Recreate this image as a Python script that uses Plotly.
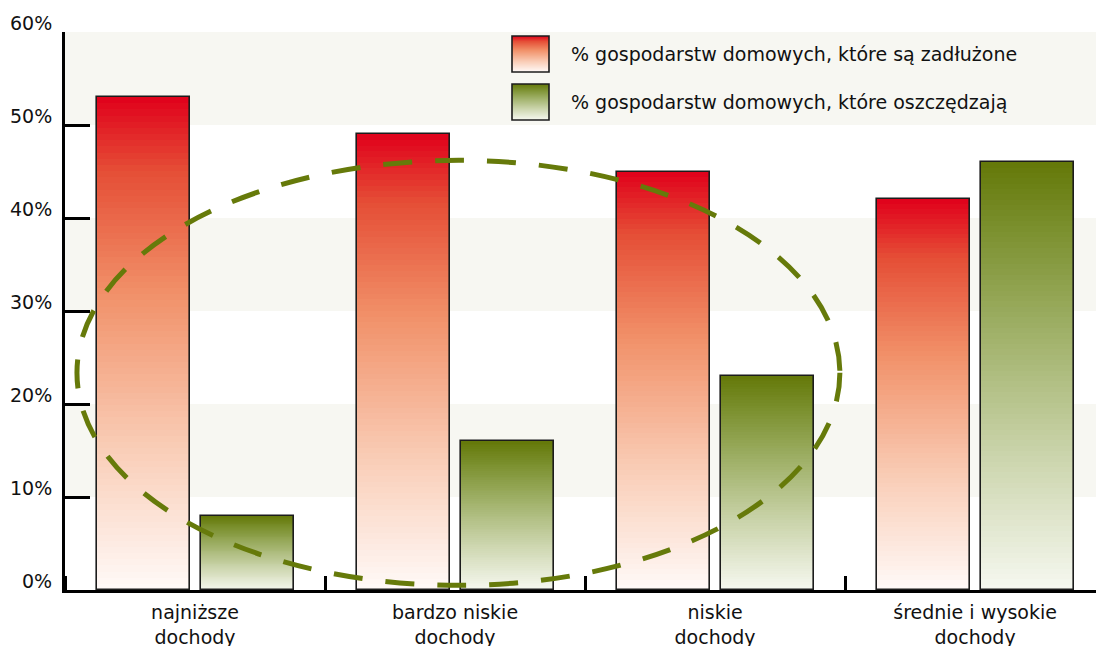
import plotly.graph_objects as go

# Income groups and shares of households (%)
categories = ["najniższe<br>dochody", "bardzo niskie<br>dochody", "niskie<br>dochody", "średnie i wysokie<br>dochody"]
indebted = [53, 49, 45, 42]
saving = [8, 16, 23, 46]
series_names = [
    "% gospodarstw domowych, które są zadłużone",
    "% gospodarstw domowych, które oszczędzają",
]
y_ticks = [0, 10, 20, 30, 40, 50, 60]
y_tick_labels = ["0%", "10%", "20%", "30%", "40%", "50%", "60%"]

FONT = "DejaVu Sans"
FS = 19
RED_STOPS = [(0.0, (255, 250, 248)), (0.3, (249, 203, 180)), (0.6, (241, 145, 105)),
             (0.85, (229, 78, 54)), (1.0, (224, 0, 27))]
GREEN_STOPS = [(0.0, (246, 248, 240)), (0.3, (205, 214, 175)), (0.6, (160, 177, 105)),
               (0.85, (122, 143, 45)), (1.0, (100, 120, 8))]
N_SEG = 80


def grad(stops, t):
    for (t0, c0), (t1, c1) in zip(stops, stops[1:]):
        if t <= t1:
            f = (t - t0) / (t1 - t0) if t1 > t0 else 0
            c = [round(a + (b - a) * f) for a, b in zip(c0, c1)]
            return "rgb(%d,%d,%d)" % tuple(c)
    return "rgb(%d,%d,%d)" % stops[-1][1]


BAR_W = 0.358
OFFSETS = [-0.377, 0.023]

fig = go.Figure()

for values, stops, off, name in zip([indebted, saving], [RED_STOPS, GREEN_STOPS], OFFSETS, series_names):
    xs, bases, hs, cols = [], [], [], []
    for i, v in enumerate(values):
        step = v / N_SEG
        for k in range(N_SEG):
            xs.append(i)
            bases.append(k * step)
            hs.append(step * 1.6 if k < N_SEG - 1 else step)
            cols.append(grad(stops, (k + 0.5) / N_SEG))
    fig.add_trace(go.Bar(x=xs, y=hs, base=bases, width=BAR_W, offset=off,
                         marker=dict(color=cols, line=dict(width=0)),
                         hoverinfo="skip", showlegend=False))
    # outline of the whole bar
    fig.add_trace(go.Bar(x=list(range(len(values))), y=values, width=BAR_W, offset=off,
                         marker=dict(color="rgba(0,0,0,0)", line=dict(color="#1c1c1c", width=1.6)),
                         name=name, showlegend=False))

shapes = []
# light horizontal bands
for lo in y_ticks[1::2]:
    shapes.append(dict(type="rect", xref="paper", yref="y", x0=0, x1=1, y0=lo, y1=lo + 10,
                       fillcolor="#f7f7f2", line=dict(width=0), layer="below"))

# dashed ellipse around the three lower-income groups
shapes.append(dict(type="circle", xref="x", yref="y", x0=-0.454, x1=2.48, y0=0.5, y1=46.2,
                   line=dict(color="#667a0a", width=5, dash="29px,23px"), layer="above"))

# legend swatches (gradient squares)
W, H = 1031, 558
annotations = []
for row, stops in enumerate([RED_STOPS, GREEN_STOPS]):
    top = 36 + row * 48
    px0, px1 = 512, 549
    n = 36
    for k in range(n):
        y_hi = top + k
        t = 1 - (k + 0.5) / n
        shapes.append(dict(type="rect", xref="paper", yref="paper",
                           x0=(px0 - 65) / W, x1=(px1 - 65) / W,
                           y0=(590 - (y_hi + 1.3)) / H, y1=(590 - y_hi) / H,
                           fillcolor=grad(stops, t), line=dict(width=0)))
    shapes.append(dict(type="rect", xref="paper", yref="paper",
                       x0=(px0 - 65) / W, x1=(px1 - 65) / W,
                       y0=(590 - (top + 36)) / H, y1=(590 - top) / H,
                       line=dict(color="#1c1c1c", width=1.6)))
    annotations.append(dict(xref="paper", yref="paper", x=(569 - 65) / W, y=(590 - (top + 18)) / H,
                            text=series_names[row], showarrow=False, xanchor="left", yanchor="middle",
                            font=dict(family=FONT, size=FS, color="#111")))

# y tick labels, set slightly above their gridline
for v, lab in zip(y_ticks, y_tick_labels):
    annotations.append(dict(xref="paper", yref="y", x=0, y=v, text=lab, showarrow=False,
                            xanchor="right", yanchor="middle", xshift=-11, yshift=9,
                            font=dict(family=FONT, size=FS, color="#111")))

fig.update_layout(
    width=1096, height=646,
    margin=dict(l=65, r=0, t=32, b=56),
    paper_bgcolor="white", plot_bgcolor="white",
    barmode="overlay", bargap=0,
    shapes=shapes, annotations=annotations,
    font=dict(family=FONT, size=FS, color="#111"),
    xaxis=dict(range=[-0.5, 3.465], tickmode="array", tickvals=list(range(len(categories))),
               ticktext=categories, ticks="", showgrid=False, zeroline=False, automargin=False,
               showline=True, linecolor="black", linewidth=3, ticklabelstandoff=3,
               minor=dict(tick0=0.5, dtick=1, ticks="inside", ticklen=14, tickwidth=3,
                          tickcolor="black", showgrid=False),
               tickfont=dict(family=FONT, size=FS, color="#111")),
    yaxis=dict(range=[0, 60], tickvals=y_ticks, showticklabels=False, ticks="inside",
               ticklen=25, tickwidth=3, tickcolor="black", showgrid=False, zeroline=False,
               showline=True, linecolor="black", linewidth=3, automargin=False),
)

fig.write_html("out.html")
